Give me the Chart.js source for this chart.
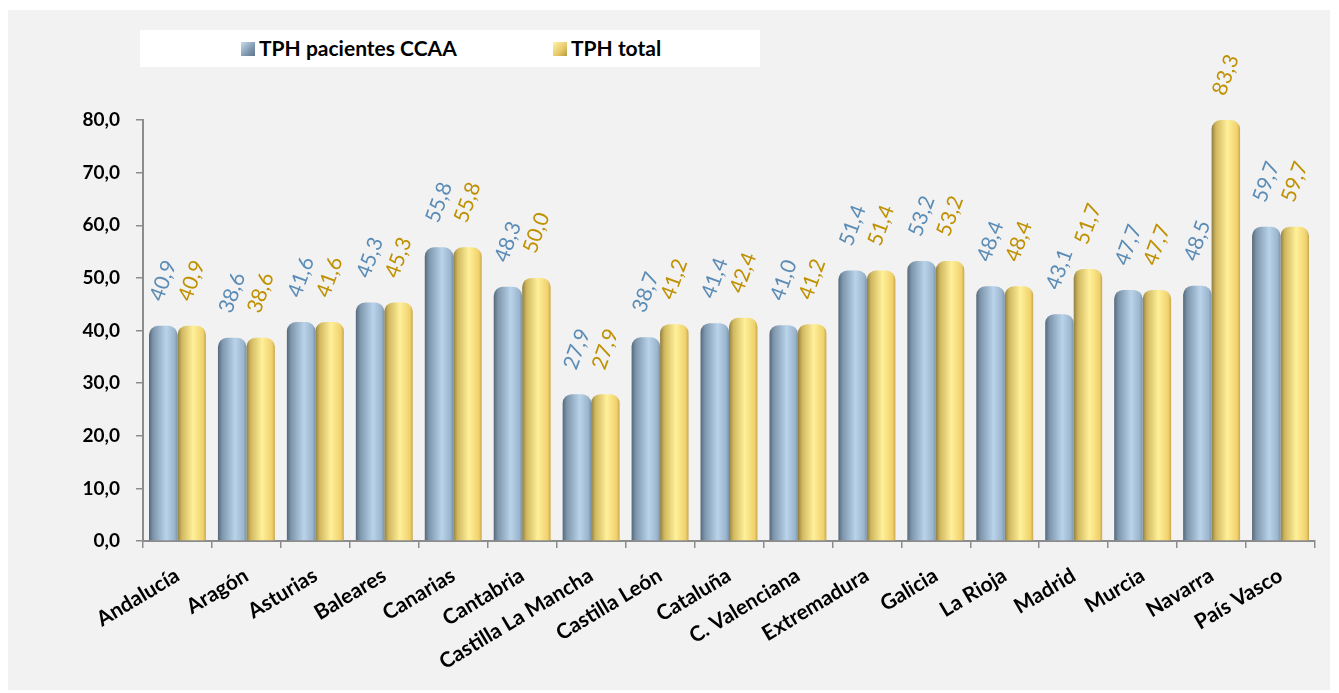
<!DOCTYPE html>
<html>
<head>
<meta charset="utf-8">
<script src="https://cdn.jsdelivr.net/npm/chart.js@4/dist/chart.umd.min.js"></script>
<style>
    body { margin: 0; background: #ffffff; }
    #wrap { position: absolute; left: 8px; top: 10px; width: 1322px; height: 680px; background: #f2f2f2; }
    #legend { position: absolute; left: 132px; top: 20px; width: 620px; height: 37px; background: #ffffff;
              font-family: Lato, "Open Sans", sans-serif; font-weight: bold; font-size: 21px; color: #000; }
    .item { position: absolute; top: 7px; line-height: 22px; }
    .box { position: absolute; top: 5px; width: 14px; height: 14px; }
    .blue { background: linear-gradient(135deg, #c9dced, #7f99b1 60%, #5f7488); }
    .gold { background: linear-gradient(135deg, #fff2b0, #e7c866 60%, #b59a3e); }
</style>
</head>
<body>
<div id="wrap">
    <canvas id="chart" width="1322" height="680"></canvas>
    <div id="legend">
        <div class="item" style="left:101px"><span class="box blue"></span><span style="margin-left:18px">TPH pacientes CCAA</span></div>
        <div class="item" style="left:413px"><span class="box gold"></span><span style="margin-left:18px">TPH total</span></div>
    </div>
</div>
<script>
const categories = ['Andalucía', 'Aragón', 'Asturias', 'Baleares', 'Canarias', 'Cantabria',
    'Castilla La Mancha', 'Castilla León', 'Cataluña', 'C. Valenciana', 'Extremadura',
    'Galicia', 'La Rioja', 'Madrid', 'Murcia', 'Navarra', 'País Vasco'];
const pacientesCCAA = [40.9, 38.6, 41.6, 45.3, 55.8, 48.3, 27.9, 38.7, 41.4, 41.0, 51.4, 53.2, 48.4, 43.1, 47.7, 48.5, 59.7];
const tphTotal = [40.9, 38.6, 41.6, 45.3, 55.8, 50.0, 27.9, 41.2, 42.4, 41.2, 51.4, 53.2, 48.4, 51.7, 47.7, 83.3, 59.7];
const yMin = 0, yMax = 80, yStep = 10;

const CAT_PCT = 0.826;
const FONT = 'Lato, "Open Sans", sans-serif';

function fmt(v) {
    return v.toFixed(1).replace('.', ',');
}

// horizontal gradient per bar so it looks like a cylinder
function cylinder(stops) {
    return function (c) {
        const chart = c.chart;
        const xs = chart.scales.x;
        if (!xs || c.type !== 'data' || !chart.chartArea) return stops[3][1];
        const catW = (xs.right - xs.left) / categories.length;
        const groupW = catW * CAT_PCT;
        const barW = groupW / 2;
        const center = xs.getPixelForValue(c.dataIndex);
        const left = center - groupW / 2 + c.datasetIndex * barW;
        const g = chart.ctx.createLinearGradient(left, 0, left + barW, 0);
        stops.forEach(s => g.addColorStop(s[0], s[1]));
        return g;
    };
}

const blueStops = [[0, '#56687a'], [0.15, '#7d96ac'], [0.6, '#b9d3ea'], [0.9, '#9ab5cd'], [1, '#7a93a9']];
const goldStops = [[0, '#8f7f44'], [0.15, '#d0b75e'], [0.55, '#fff09a'], [0.9, '#f0d16c'], [1, '#c8a84d']];

const valueLabels = {
    id: 'valueLabels',
    afterDatasetsDraw(chart) {
        const ctx = chart.ctx;
        const ys = chart.scales.y;
        chart.data.datasets.forEach((ds, di) => {
            const meta = chart.getDatasetMeta(di);
            meta.data.forEach((bar, i) => {
                const v = ds.values[i];
                const top = ys.getPixelForValue(Math.min(v, yMax));
                ctx.save();
                ctx.translate(bar.x, top - 45);
                ctx.rotate(-70 * Math.PI / 180);
                ctx.font = '21px ' + FONT;
                ctx.fillStyle = ds.labelColor;
                ctx.textAlign = 'center';
                ctx.textBaseline = 'middle';
                ctx.fillText(fmt(v), 0, 0);
                ctx.restore();
            });
        });
    }
};

new Chart(document.getElementById('chart'), {
    type: 'bar',
    data: {
        labels: categories,
        datasets: [{
            label: 'TPH pacientes CCAA',
            values: pacientesCCAA,
            data: pacientesCCAA.map(v => Math.min(v, yMax)),
            backgroundColor: cylinder(blueStops),
            labelColor: '#5b8cb6',
            borderRadius: { topLeft: 9, topRight: 9, bottomLeft: 0, bottomRight: 0 },
            borderSkipped: false,
            categoryPercentage: CAT_PCT,
            barPercentage: 1.0
        }, {
            label: 'TPH total',
            values: tphTotal,
            data: tphTotal.map(v => Math.min(v, yMax)),
            backgroundColor: cylinder(goldStops),
            labelColor: '#bf9000',
            borderRadius: { topLeft: 9, topRight: 9, bottomLeft: 0, bottomRight: 0 },
            borderSkipped: false,
            categoryPercentage: CAT_PCT,
            barPercentage: 1.0
        }]
    },
    options: {
        responsive: false,
        animation: false,
        layout: { padding: { top: 110, right: 15, left: 0, bottom: 0 } },
        plugins: {
            legend: { display: false },
            tooltip: { enabled: false }
        },
        scales: {
            x: {
                afterFit: s => { s.height = 149; },
                grid: { display: true, drawOnChartArea: false, drawTicks: true, tickLength: 7, color: '#8c8c8c', lineWidth: 1.5 },
                border: { display: true, color: '#8c8c8c', width: 2 },
                ticks: {
                    autoSkip: false,
                    minRotation: 31,
                    maxRotation: 31,
                    padding: 15,
                    color: '#000',
                    font: { family: FONT, size: 21, weight: 'bold' }
                }
            },
            y: {
                min: yMin,
                max: yMax,
                afterFit: s => { s.width = 135; },
                grid: { display: true, drawOnChartArea: false, drawTicks: true, tickLength: 7, color: '#8c8c8c', lineWidth: 1.5 },
                border: { display: true, color: '#8c8c8c', width: 2 },
                ticks: {
                    stepSize: yStep,
                    padding: 16,
                    color: '#000',
                    font: { family: FONT, size: 19, weight: 'bold' },
                    callback: v => fmt(v)
                }
            }
        }
    },
    plugins: [valueLabels]
});
</script>
</body>
</html>
